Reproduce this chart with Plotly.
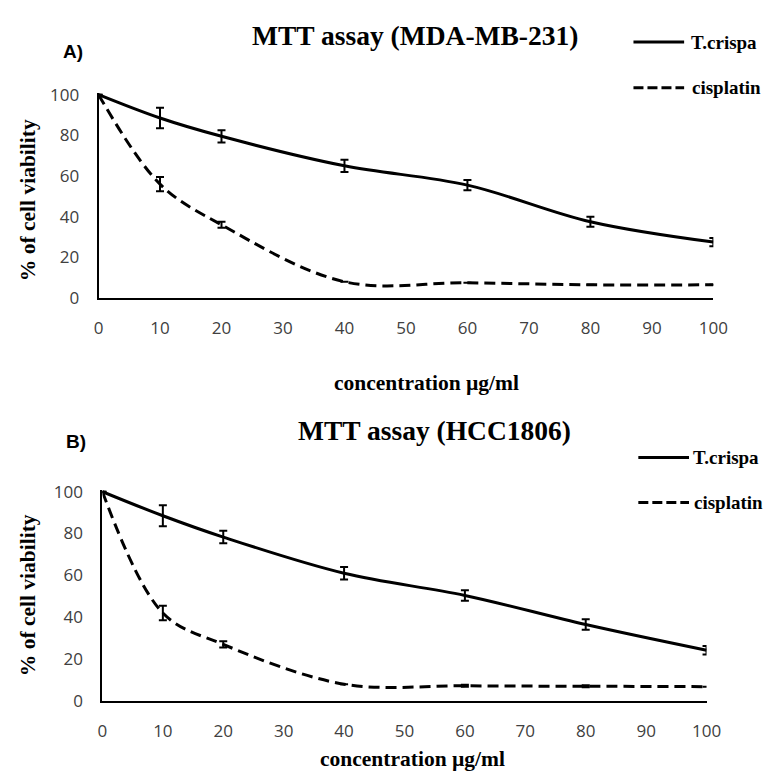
import plotly.graph_objects as go

conc = [0, 10, 20, 40, 60, 80, 100]
x_ticks = [0, 10, 20, 30, 40, 50, 60, 70, 80, 90, 100]
y_ticks = [0, 20, 40, 60, 80, 100]

# A) MDA-MB-231
a_tcrispa = [100, 88.5, 79.5, 65, 55.5, 37.5, 27.5]
a_tcrispa_err = [0, 5, 3, 3, 2.5, 2.5, 2]
a_cisplatin = [100, 56, 36, 8, 7.5, 6.5, 6.5]
a_cisplatin_err = [0, 3.5, 1.5, 0, 0, 0, 0]

# B) HCC1806
b_tcrispa = [100, 88.5, 78.3, 61, 50.4, 36.5, 24.2]
b_tcrispa_err = [0, 5, 3, 3, 2.5, 2.5, 2]
b_cisplatin = [100, 42, 27, 8, 7.2, 7, 6.8]
b_cisplatin_err = [0, 3.5, 1.5, 0, 0.5, 0.5, 0]

serif = "Liberation Serif"
tickfont = dict(family="Open Sans", size=17, color="#404040")
DASH = "11px,6px"
W = 780.0


def err(vals):
    return dict(type="data", array=vals, visible=True, color="black",
                thickness=2, width=4)


fig = go.Figure()
traces = [
    (a_tcrispa, a_tcrispa_err, "T.crispa", "solid", "x", "y"),
    (a_cisplatin, a_cisplatin_err, "cisplatin", DASH, "x", "y"),
    (b_tcrispa, b_tcrispa_err, "T.crispa", "solid", "x2", "y2"),
    (b_cisplatin, b_cisplatin_err, "cisplatin", DASH, "x2", "y2"),
]
for vals, e, name, dash, xa, ya in traces:
    fig.add_trace(go.Scatter(
        x=conc, y=vals, error_y=err(e), name=name, mode="lines",
        line=dict(color="black", width=3, dash=dash, shape="spline", smoothing=1.0),
        xaxis=xa, yaxis=ya, cliponaxis=False, showlegend=False,
    ))

axis_common_x = dict(range=[0, 100], tickvals=x_ticks, showgrid=False, zeroline=False,
                     showline=True, linecolor="black", linewidth=1.5, ticks="",
                     tickfont=tickfont, ticklabelstandoff=14, fixedrange=True)
axis_common_y = dict(range=[0, 100.8], tickvals=y_ticks, showgrid=False, zeroline=False,
                     showline=True, linecolor="black", linewidth=2, ticks="",
                     tickfont=tickfont, ticklabelstandoff=14, fixedrange=True)

fig.update_layout(
    width=780, height=780, margin=dict(l=0, r=0, t=0, b=0),
    font=dict(family=serif, color="black", size=17),
    paper_bgcolor="white", plot_bgcolor="white",
    showlegend=False,
    xaxis=dict(domain=[96 / W, 727 / W], anchor="y", **axis_common_x),
    yaxis=dict(domain=[1 - 296 / W, 1 - 85.3 / W], anchor="x", **axis_common_y),
    xaxis2=dict(domain=[100 / W, 720 / W], anchor="y2", **axis_common_x),
    yaxis2=dict(domain=[1 - 710 / W, 1 - 493.3 / W], anchor="x2", **axis_common_y),
)

# legends (sample line + label), positions in pixels
legend_items = [
    ("T.crispa", "solid", 645, 697, 33, 702),
    ("cisplatin", "10px,4px", 645, 697, 80, 703),
    ("T.crispa", "solid", 650, 702, 460, 704),
    ("cisplatin", "10px,4px", 650, 702, 506, 705),
]
for label, dash, x0, x1, ypx, tx in legend_items:
    fig.add_shape(type="line", xref="paper", yref="paper",
                  x0=x0 / W, x1=x1 / W, y0=1 - ypx / W, y1=1 - ypx / W,
                  line=dict(color="black", width=3, dash=dash))
    fig.add_annotation(text="<b>" + label + "</b>", x=tx / W, y=1 - ypx / W,
                       xref="paper", yref="paper", showarrow=False,
                       xanchor="left", yanchor="middle",
                       font=dict(family=serif, size=19, color="black"))

ann = [
    dict(text="<b>MTT assay (MDA-MB-231)</b>", x=421, y=26, size=27.5, family=serif),
    dict(text="<b>MTT assay (HCC1806)</b>", x=441, y=432, size=27.5, family=serif),
    dict(text="<b>A)</b>", x=70, y=43, size=19, family="Liberation Sans"),
    dict(text="<b>B)</b>", x=73, y=443, size=19, family="Liberation Sans"),
    dict(text="<b>concentration µg/ml</b>", x=433, y=383, size=21.5, family=serif),
    dict(text="<b>concentration µg/ml</b>", x=418, y=770, size=21.5, family=serif),
]
for a in ann:
    fig.add_annotation(text=a["text"], x=a["x"] / W, y=1 - a["y"] / W, xref="paper", yref="paper",
                       showarrow=False, xanchor="center", yanchor="middle",
                       font=dict(family=a["family"], size=a["size"], color="black"))

for ypx in (195, 601):
    fig.add_annotation(text="<b>% of cell viability</b>", x=23 / W, y=1 - ypx / W,
                       xref="paper", yref="paper", showarrow=False, textangle=-90,
                       xanchor="center", yanchor="middle",
                       font=dict(family=serif, size=21.5, color="black"))

fig.write_html("out.html")
